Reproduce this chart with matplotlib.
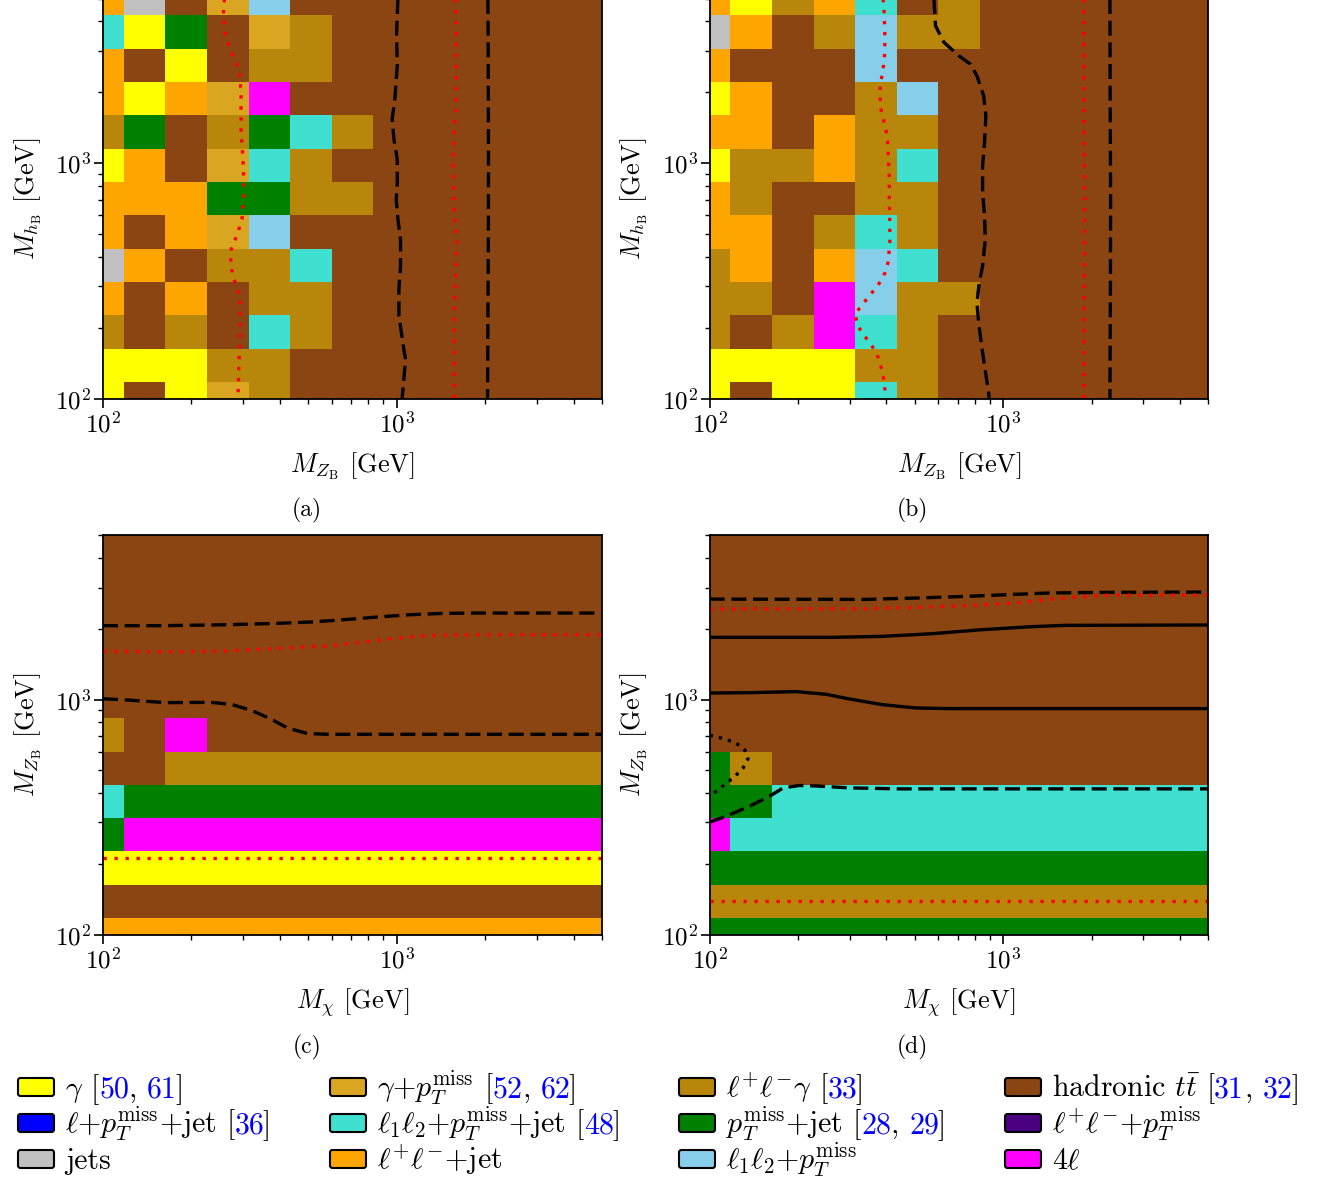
import numpy as np
import matplotlib
matplotlib.use("Agg")
import matplotlib.pyplot as plt
from matplotlib.colors import ListedColormap
from matplotlib.patches import FancyBboxPatch

plt.rcParams.update({
    "font.family": "serif",
    "font.serif": ["cmr10"],
    "mathtext.fontset": "cm",
    "axes.formatter.use_mathtext": True,
    "axes.unicode_minus": False,
})

W, H, DPI = 1317, 1179, 100

# ---------------- channels ----------------
channel_codes = ["Y", "g", "D", "H", "B", "T", "G", "I", "S", "O", "K", "M"]
channel_colors = ["#FFFF00", "#DAA520", "#B8860B", "#8B4513", "#0000FF", "#40E0D0",
                  "#008000", "#4B0082", "#C0C0C0", "#FFA500", "#87CEEB", "#FF00FF"]
channel_labels = [r"$\gamma$", r"$\gamma$+$p_T^{\rm miss}$", r"$\ell^{+}\ell^{-}\gamma$",
                  r"hadronic $t\bar{t}$", r"$\ell$+$p_T^{\rm miss}$+jet",
                  r"$\ell_1\ell_2$+$p_T^{\rm miss}$+jet", r"$p_T^{\rm miss}$+jet",
                  r"$\ell^{+}\ell^{-}$+$p_T^{\rm miss}$", "jets", r"$\ell^{+}\ell^{-}$+jet",
                  r"$\ell_1\ell_2$+$p_T^{\rm miss}$", r"$4\ell$"]
channel_refs = [["50", "61"], ["52", "62"], ["33"], ["31", "32"], ["36"], ["48"],
                ["28", "29"], [], [], [], [], []]

# ---------------- mass grid ----------------
grid_min, grid_max, n_grid = 100.0, 5000.0, 13

# most sensitive channel per grid cell, rows listed from top (5000) to bottom (100)
panel_a_grid = [
    "OSHgKHHHHHHHH",
    "TYGHgDHHHHHHH",
    "OHYHDDHHHHHHH",
    "OYOgMHHHHHHHH",
    "DGHDGTDHHHHHH",
    "YOHgTDHHHHHHH",
    "OOOGGDDHHHHHH",
    "OHOgKHHHHHHHH",
    "SOHDDTHHHHHHH",
    "OHOHDDHHHHHHH",
    "DHDHTDHHHHHHH",
    "YYYDDHHHHHHHH",
    "YHYgDHHHHHHHH",
]
panel_b_grid = [
    "OYDOTHDHHHHHH",
    "SOHDKDDHHHHHH",
    "OHHHKHHHHHHHH",
    "YOHHDKHHHHHHH",
    "OOHODDHHHHHHH",
    "YDDODTHHHHHHH",
    "ODHHDDHHHHHHH",
    "OOHDTDHHHHHHH",
    "DOHOKTHHHHHHH",
    "DDHMKDDHHHHHH",
    "DHDMTDHHHHHHH",
    "YYYYDDHHHHHHH",
    "YHYYTDHHHHHHH",
]
panel_c_grid = [
    "HHHHHHHHHHHHH",
    "HHHHHHHHHHHHH",
    "HHHHHHHHHHHHH",
    "HHHHHHHHHHHHH",
    "HHHHHHHHHHHHH",
    "HHHHHHHHHHHHH",
    "DHMHHHHHHHHHH",
    "HHDDDDDDDDDDD",
    "TGGGGGGGGGGGG",
    "GMMMMMMMMMMMM",
    "YYYYYYYYYYYYY",
    "HHHHHHHHHHHHH",
    "OOOOOOOOOOOOO",
]
panel_d_grid = [
    "HHHHHHHHHHHHH",
    "HHHHHHHHHHHHH",
    "HHHHHHHHHHHHH",
    "HHHHHHHHHHHHH",
    "HHHHHHHHHHHHH",
    "HHHHHHHHHHHHH",
    "HHHHHHHHHHHHH",
    "GDHHHHHHHHHHH",
    "GGTTTTTTTTTTT",
    "MTTTTTTTTTTTT",
    "GGGGGGGGGGGGG",
    "DDDDDDDDDDDDD",
    "GGGGGGGGGGGGG",
]

# ---------------- exclusion contours ----------------
# panel (a)
a_dash1_x = [1008, 998, 1003, 984, 964, 977, 1003, 1003, 995, 1008, 1029, 1029, 1016, 1016, 1056, 1070, 1042]
a_dash1_y = [5000, 3590, 2593, 1871, 1538, 1265, 1040, 828, 703, 578, 475, 366, 292, 225, 162, 147, 100]
a_dash2_x = [2040, 2045, 2050, 2048, 2040, 2035]
a_dash2_y = [5000, 3000, 1000, 500, 200, 100]
a_red1_x = [259, 257, 260, 266, 274, 284, 291, 295, 295, 299, 301, 301, 297, 290, 282, 273, 272, 274, 279, 288, 292, 293, 290, 288]
a_red1_y = [5000, 4365, 3590, 3260, 2953, 2678, 2428, 1996, 1349, 1074, 884, 703, 578, 524, 475, 431, 391, 354, 321, 291, 264, 191, 138, 100]
a_red2_x = [1581, 1594, 1589, 1552, 1560, 1601, 1573, 1569, 1573]
a_red2_y = [5000, 3048, 1871, 1040, 703, 460, 264, 191, 100]

# panel (b)
b_dash1_x = [581, 588, 628, 706, 773, 814, 858, 873, 864, 851, 851, 864, 869, 851, 829, 814, 825, 842, 864, 892, 896]
b_dash1_y = [5000, 3833, 3260, 2857, 2634, 2350, 1932, 1589, 1224, 974, 750, 598, 475, 366, 311, 256, 210, 173, 138, 106, 100]
b_dash2_x = [2311, 2315, 2323, 2320, 2311]
b_dash2_y = [5000, 2000, 700, 300, 100]
b_red1_x = [390, 393, 395, 395, 390, 381, 381, 388, 395, 403, 406, 409, 409, 411, 411, 405, 396, 381, 363, 345, 328, 313, 319, 332, 351, 368, 379, 386, 393, 396, 398]
b_red1_y = [5000, 4365, 3590, 2953, 2508, 2131, 1752, 1589, 1441, 1306, 1074, 884, 703, 560, 460, 378, 343, 313, 289, 267, 248, 228, 205, 189, 173, 158, 145, 132, 119, 107, 100]
b_red2_x = [1882, 1885, 1896, 1892, 1885]
b_red2_y = [5000, 2000, 700, 300, 100]

# panel (c)
c_dash1_x = [100, 158, 266, 393, 509, 661, 857, 1111, 1442, 1870, 5000]
c_dash1_y = [2065, 2065, 2085, 2113, 2141, 2190, 2248, 2300, 2330, 2338, 2338]
c_red1_x = [100, 180, 266, 393, 581, 753, 927, 1111, 1442, 1870, 5000]
c_red1_y = [1606, 1600, 1611, 1654, 1691, 1754, 1811, 1848, 1884, 1891, 1891]
c_dash2_x = [100, 122, 164, 233, 273, 319, 373, 425, 497, 581, 5000]
c_dash2_y = [1009, 996, 971, 974, 955, 901, 827, 757, 717, 712, 712]
c_red2_x = [100, 5000]
c_red2_y = [211, 211]

# panel (d)
d_dash1_x = [100, 340, 503, 743, 1098, 1425, 2104, 5000]
d_dash1_y = [2680, 2672, 2708, 2752, 2808, 2845, 2862, 2871]
d_red1_x = [100, 340, 503, 743, 1098, 1425, 1750, 2300, 5000]
d_red1_y = [2431, 2439, 2470, 2512, 2578, 2664, 2735, 2789, 2789]
d_solid1_x = [100, 262, 388, 573, 847, 1251, 1623, 5000]
d_solid1_y = [1842, 1842, 1860, 1909, 1986, 2045, 2072, 2079]
d_solid2_x = [100, 137, 197, 249, 299, 388, 503, 653, 5000]
d_solid2_y = [1067, 1071, 1082, 1054, 1007, 952, 922, 916, 916]
d_dash2_x = [100, 114, 137, 160, 178, 202, 231, 299, 442, 5000]
d_dash2_y = [301, 319, 352, 388, 421, 431, 429, 421, 417, 417]
d_dot_x = [100, 104, 114, 123, 132, 135, 130, 122, 108, 100]
d_dot_y = [705, 698, 676, 654, 608, 559, 512, 472, 417, 388]
d_red2_x = [100, 5000]
d_red2_y = [139, 139]

# ---------------- styles ----------------
LW = 2.4
st_dash = dict(color="black", lw=LW, dashes=(4.5, 2.0))
st_red = dict(color="red", lw=LW, dashes=(1.0, 2.3))
st_solid = dict(color="black", lw=LW, ls="-")
st_kdot = dict(color="black", lw=LW, dashes=(1.0, 1.8))

FS_TICK = 18
FS_LABEL = 19
FS_CAP = 17
FS_LEG = 21.5

fig = plt.figure(figsize=(W / DPI, H / DPI), dpi=DPI)

def add_axes_px(l, t, r, b):
    return fig.add_axes([l / W, 1 - b / H, (r - l) / W, (b - t) / H])

cmap = ListedColormap(channel_colors)
code_index = {c: i for i, c in enumerate(channel_codes)}

log_c = np.linspace(np.log10(grid_min), np.log10(grid_max), n_grid)
step = log_c[1] - log_c[0]
edges = 10 ** np.concatenate([log_c - step / 2, [log_c[-1] + step / 2]])

def draw_panel(ax, grid, lines, xlabel, ylabel):
    C = np.array([[code_index[ch] for ch in row] for row in grid[::-1]])
    ax.pcolormesh(edges, edges, C, cmap=cmap, vmin=-0.5, vmax=len(channel_codes) - 0.5,
                  shading="flat")
    for x, y, st in lines:
        ax.plot(x, y, **st)
    ax.set_xscale("log")
    ax.set_yscale("log")
    ax.set_xlim(grid_min, grid_max)
    ax.set_ylim(grid_min, grid_max)
    ax.tick_params(which="major", length=6.8, width=1.2, labelsize=FS_TICK, pad=2.5)
    ax.tick_params(which="minor", length=3.6, width=1.0)
    ax.tick_params(axis="y", which="major", pad=1.5)
    for sp in ax.spines.values():
        sp.set_linewidth(1.3)
    ax.set_xlabel(xlabel, fontsize=FS_LABEL, labelpad=9)
    ax.set_ylabel(ylabel, fontsize=FS_LABEL, labelpad=8.5)

lab_zb = r"$M_{Z_{\rm B}}$ [GeV]"
lab_hb = r"$M_{h_{\rm B}}$ [GeV]"
lab_chi = r"$M_{\chi}$ [GeV]"

ax_a = add_axes_px(103, -1.5, 602.3, 398.7)
draw_panel(ax_a, panel_a_grid,
           [(a_dash1_x, a_dash1_y, st_dash), (a_dash2_x, a_dash2_y, st_dash),
            (a_red1_x, a_red1_y, st_red), (a_red2_x, a_red2_y, st_red)],
           lab_zb, lab_hb)
ax_b = add_axes_px(709.7, -1.5, 1208.3, 398.7)
draw_panel(ax_b, panel_b_grid,
           [(b_dash1_x, b_dash1_y, st_dash), (b_dash2_x, b_dash2_y, st_dash),
            (b_red1_x, b_red1_y, st_red), (b_red2_x, b_red2_y, st_red)],
           lab_zb, lab_hb)
ax_c = add_axes_px(103, 535.5, 602.3, 934.5)
draw_panel(ax_c, panel_c_grid,
           [(c_dash1_x, c_dash1_y, st_dash), (c_red1_x, c_red1_y, st_red),
            (c_dash2_x, c_dash2_y, st_dash), (c_red2_x, c_red2_y, st_red)],
           lab_chi, lab_zb)
ax_d = add_axes_px(709.7, 535.5, 1208.3, 934.5)
draw_panel(ax_d, panel_d_grid,
           [(d_dash1_x, d_dash1_y, st_dash), (d_red1_x, d_red1_y, st_red),
            (d_solid1_x, d_solid1_y, st_solid), (d_solid2_x, d_solid2_y, st_solid),
            (d_dash2_x, d_dash2_y, st_dash), (d_dot_x, d_dot_y, st_kdot),
            (d_red2_x, d_red2_y, st_red)],
           lab_chi, lab_zb)

# ---------------- overlay for captions and legend (pixel coordinates) ----------------
ov = fig.add_axes([0, 0, 1, 1])
ov.set_xlim(0, W)
ov.set_ylim(H, 0)
ov.axis("off")
ov.patch.set_alpha(0)

for txt, x, y in [("(a)", 307, 510), ("(b)", 912, 510), ("(c)", 307, 1047), ("(d)", 912, 1047)]:
    ov.text(x, y, txt, fontsize=FS_CAP, ha="center", va="center")

renderer = fig.canvas.get_renderer()

def text_width(s):
    t = ov.text(0, 0, s, fontsize=FS_LEG)
    w = t.get_window_extent(renderer).width
    t.remove()
    return w

def rich_text(x, y, pieces):
    full = ""
    for s, c in pieces:
        full += s
        vis = s.lstrip()
        xi = x + text_width(full) - text_width(vis)
        ov.text(xi, y, vis, fontsize=FS_LEG, color=c, ha="left", va="baseline")

leg_cols_x = [17, 329, 678, 1004]
leg_rows_y = [1097, 1133, 1169]
ncol = 4
for i, (lab, col, refs) in enumerate(zip(channel_labels, channel_colors, channel_refs)):
    r, c = divmod(i, ncol)
    x0 = leg_cols_x[c]
    yb = leg_rows_y[r]
    ov.add_patch(FancyBboxPatch((x0 + 1, yb - 19), 36, 18,
                                boxstyle="round,pad=0,rounding_size=2.5",
                                facecolor=col, edgecolor="black", lw=1.5))
    if refs:
        pieces = [(lab + " [", "black")]
        for k, ref in enumerate(refs):
            if k > 0:
                pieces.append((",", "black"))
                pieces.append((" " + ref, "blue"))
            else:
                pieces.append((ref, "blue"))
        pieces.append(("]", "black"))
    else:
        pieces = [(lab, "black")]
    rich_text(x0 + 48, yb, pieces)

fig.savefig("out.png", dpi=DPI)
